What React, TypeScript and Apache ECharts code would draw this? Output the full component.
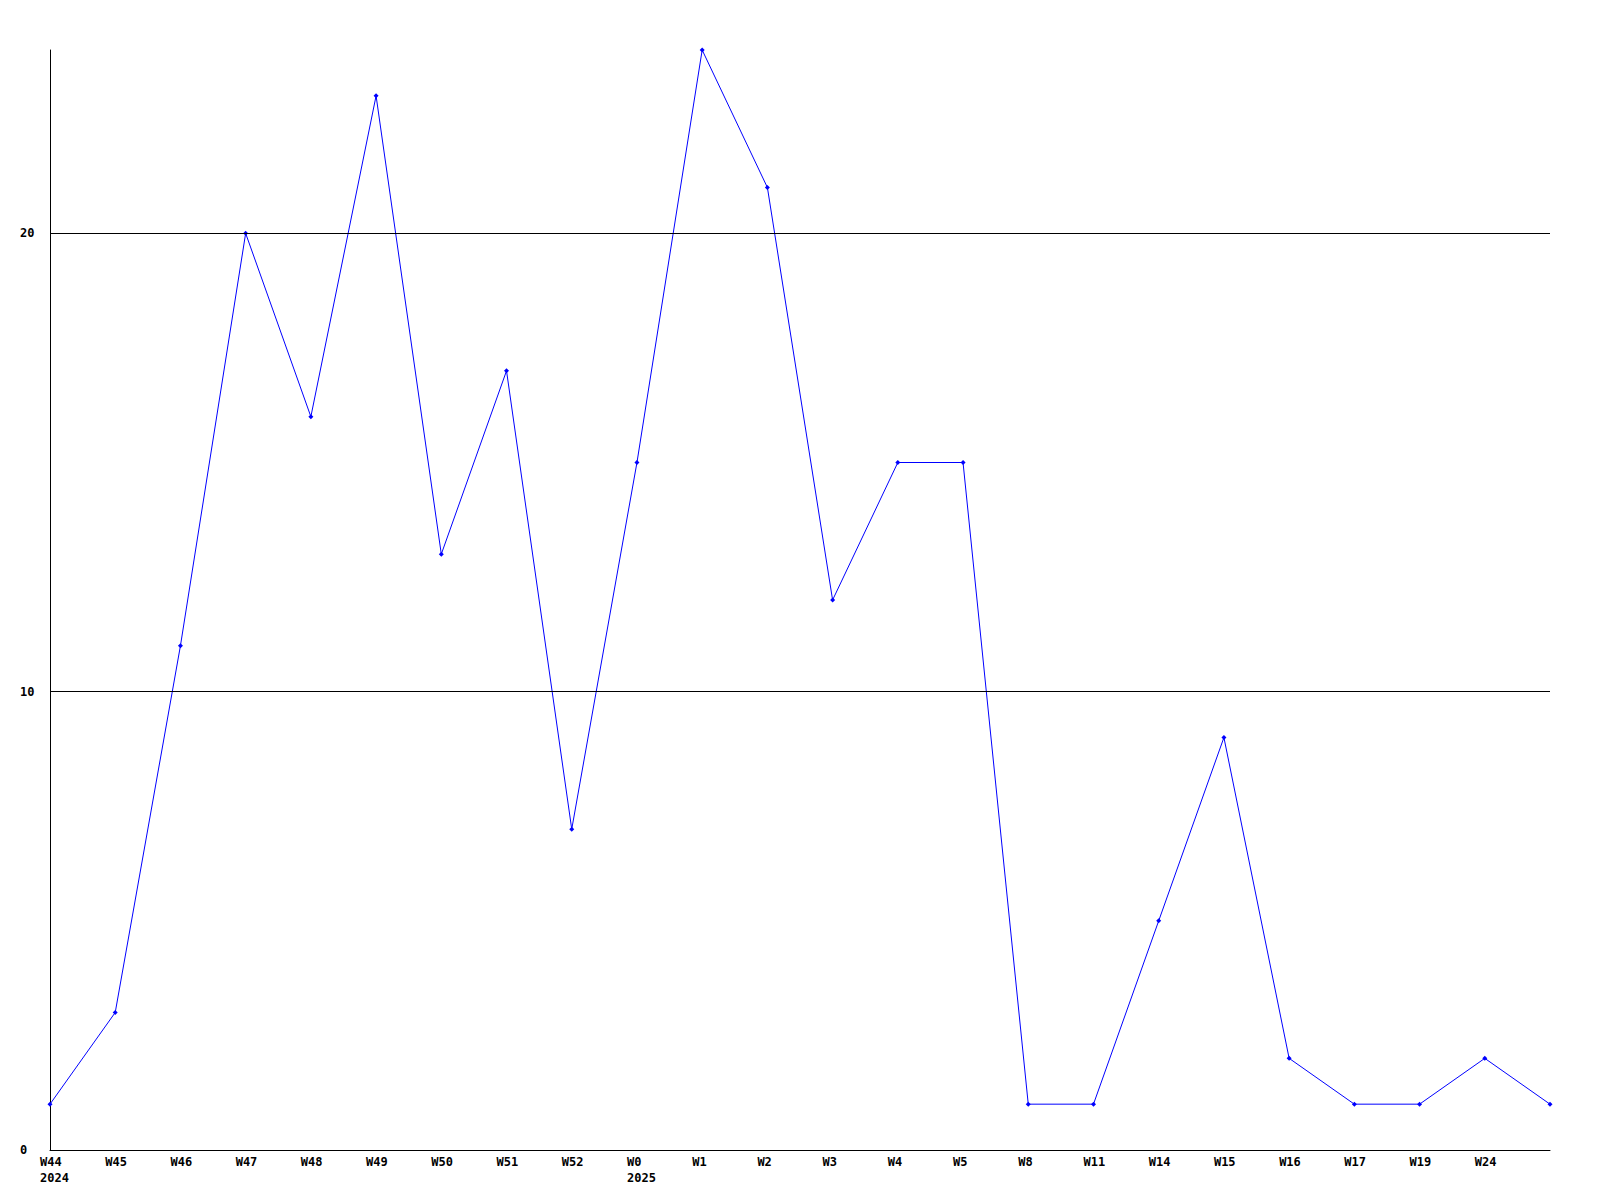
import React, { useEffect, useRef } from "react";
import * as echarts from "echarts";

const weeks = ["W44\n2024", "W45", "W46", "W47", "W48", "W49", "W50", "W51", "W52", "W0\n2025", "W1", "W2", "W3", "W4", "W5", "W8", "W11", "W14", "W15", "W16", "W17", "W19", "W24", ""];
const counts = [1, 3, 11, 20, 16, 23, 13, 17, 7, 15, 24, 21, 12, 15, 15, 1, 1, 5, 9, 2, 1, 1, 2, 1];
const gridValues = [10, 20];

export default function App() {
  const ref = useRef<HTMLDivElement>(null);
  useEffect(() => {
    const chart = echarts.init(ref.current!, null, { renderer: "svg" });
    const font = "DejaVu Sans Mono";
    chart.setOption({
      animation: false,
      backgroundColor: "#ffffff",
      grid: { left: 50, right: 50, top: 50, bottom: 50, containLabel: false },
      xAxis: {
        type: "category",
        data: weeks,
        boundaryGap: false,
        axisLine: { show: true, lineStyle: { color: "#000", width: 1 } },
        axisTick: { show: false },
        splitLine: { show: false },
        axisLabel: {
          interval: 0,
          margin: 4,
          align: "left",
          verticalAlign: "top",
          padding: [0, 0, 0, -10],
          fontFamily: font,
          fontWeight: "bold",
          fontSize: 12,
          lineHeight: 16,
          color: "#000",
        },
      },
      yAxis: {
        type: "value",
        min: 0,
        max: 24,
        interval: 10,
        axisLine: { show: true, lineStyle: { color: "#000", width: 1 } },
        axisTick: { show: false },
        splitLine: { show: false },
        axisLabel: {
          showMaxLabel: false,
          align: "left",
          margin: 30,
          fontFamily: font,
          fontWeight: "bold",
          fontSize: 12,
          color: "#000",
        },
      },
      series: [
        {
          type: "line",
          data: counts,
          symbol: "diamond",
          symbolSize: 5,
          showAllSymbol: true,
          lineStyle: { color: "#0000ff", width: 1 },
          itemStyle: { color: "#0000ff" },
          markLine: {
            silent: true,
            symbol: "none",
            label: { show: false },
            lineStyle: { color: "#000", width: 1, type: "solid" },
            data: gridValues.map((v) => ({ yAxis: v })),
          },
        },
      ],
    });
    return () => chart.dispose();
  }, []);
  return (
    <div
      ref={ref}
      style={{ position: "fixed", left: 0, top: 0, width: 1600, height: 1200 }}
    />
  );
}
